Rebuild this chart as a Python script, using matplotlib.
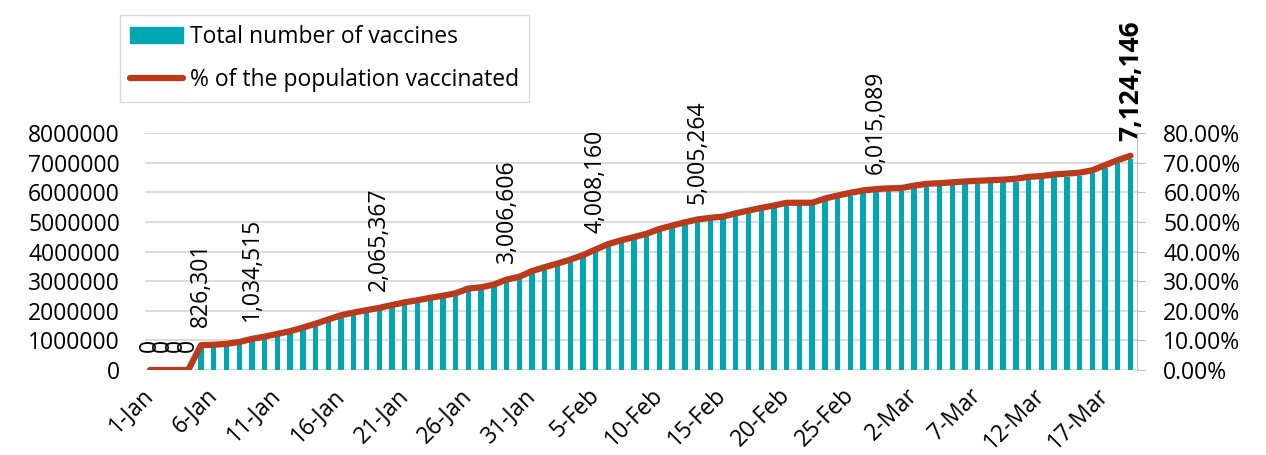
import matplotlib.pyplot as plt
import matplotlib.ticker as mticker
import pandas as pd
from matplotlib.lines import Line2D
from matplotlib.patches import Patch

plt.rcParams['font.family'] = ['Open Sans', 'DejaVu Sans']

# daily categories, 1-Jan .. 19-Mar
dates = pd.date_range('2021-01-01', '2021-03-19')
day_labels = [f'{d.day}-{d.strftime("%b")}' for d in dates]

vaccines = [0, 0, 0, 0, 826301, 840000, 870000, 930000, 1034515, 1110000,
            1200000, 1290000, 1410000, 1540000, 1680000, 1820000, 1910000, 1990000, 2065367, 2160000,
            2250000, 2320000, 2400000, 2470000, 2550000, 2710000, 2750000, 2840000, 3006606, 3100000,
            3290000, 3420000, 3540000, 3670000, 3820000, 4008160, 4190000, 4310000, 4420000, 4530000,
            4690000, 4800000, 4910000, 5005264, 5060000, 5100000, 5210000, 5300000, 5390000, 5470000,
            5560000, 5560000, 5560000, 5700000, 5800000, 5890000, 5970000, 6015089, 6040000, 6050000,
            6130000, 6190000, 6210000, 6240000, 6270000, 6290000, 6310000, 6330000, 6360000, 6420000,
            6450000, 6500000, 6530000, 6560000, 6640000, 6810000, 6980000, 7124146]

pct_vaccinated = [0, 0, 0, 0, 8.39, 8.53, 8.83, 9.44, 10.50, 11.27,
                  12.18, 13.10, 14.31, 15.63, 17.06, 18.48, 19.39, 20.20, 20.97, 21.93,
                  22.84, 23.55, 24.37, 25.08, 25.89, 27.51, 27.92, 28.83, 30.52, 31.47,
                  33.40, 34.72, 35.94, 37.26, 38.78, 40.69, 42.54, 43.76, 44.87, 45.99,
                  47.61, 48.73, 49.85, 50.81, 51.37, 51.78, 52.89, 53.81, 54.72, 55.53,
                  56.45, 56.45, 56.45, 57.87, 58.88, 59.80, 60.61, 61.07, 61.32, 61.42,
                  62.23, 62.84, 63.05, 63.35, 63.65, 63.86, 64.06, 64.26, 64.57, 65.18,
                  65.48, 65.99, 66.29, 66.60, 67.41, 69.14, 70.86, 72.33]

# days that carry a value label
labeled_days = [0, 1, 2, 3, 4, 8, 18, 28, 35, 43, 57, 77]

teal = '#00A6B1'
red = '#BA3A1B'
grid = '#d9d9d9'
fs = 16.5

fig = plt.figure(figsize=(12.66, 4.55), dpi=100)
ax = fig.add_axes([0.1145, 0.1868, 0.7835, 0.5209])

x = list(range(len(dates)))
ax.bar(x, vaccines, width=0.42, color=teal, zorder=2)
ax.set_ylim(0, 8000000)
ax.set_yticks(range(0, 8000001, 1000000))
ax.yaxis.set_major_formatter(mticker.FuncFormatter(lambda v, p: f'{int(v)}'))
ax.yaxis.grid(True, color=grid, lw=1.3)
ax.set_axisbelow(True)
for s in ax.spines.values():
    s.set_visible(False)
ax.tick_params(axis='y', length=0, pad=18, labelsize=fs)
ax.set_xticks(x[::5])
ax.set_xticklabels(day_labels[::5])
ax.tick_params(axis='x', length=0, pad=16, labelsize=fs)
plt.setp(ax.get_xticklabels(), rotation=45, ha='right', va='center', rotation_mode='anchor')
ax.set_xlim(-0.4, 77.5)

for i in labeled_days:
    last = i == labeled_days[-1]
    ax.annotate(f'{vaccines[i]:,}', (i, vaccines[i]), xytext=(0, 13), textcoords='offset points',
                rotation=90, ha='center', va='bottom', fontsize=19 if last else fs,
                fontweight='bold' if last else 'normal')

ax2 = ax.twinx()
ax2.plot(x, pct_vaccinated, color=red, lw=4.5, solid_capstyle='round', solid_joinstyle='round')
ax2.set_ylim(0, 80)
ax2.set_yticks(range(0, 81, 10))
ax2.yaxis.set_major_formatter(mticker.FuncFormatter(lambda v, p: f'{v:.2f}%'))
for name, s in ax2.spines.items():
    s.set_visible(name == 'right')
ax2.spines['right'].set_color('#bfbfbf')
ax2.tick_params(axis='y', length=6, color='#bfbfbf', pad=13, labelsize=fs)
ax2.set_xlim(-0.4, 77.5)

handles = [Patch(color=teal),
           Line2D([], [], color=red, lw=4.5, solid_capstyle='round')]
fig.legend(handles, ['Total number of vaccines', '% of the population vaccinated'],
           loc='upper left', bbox_to_anchor=(120 / 1266, 1 - 15 / 455), bbox_transform=fig.transFigure,
           frameon=True, fancybox=False, edgecolor=grid, framealpha=1, borderaxespad=0,
           handlelength=2.3, handletextpad=0.3, labelspacing=0.8, borderpad=0.45, fontsize=fs)

fig.savefig('out.png', dpi=100)
